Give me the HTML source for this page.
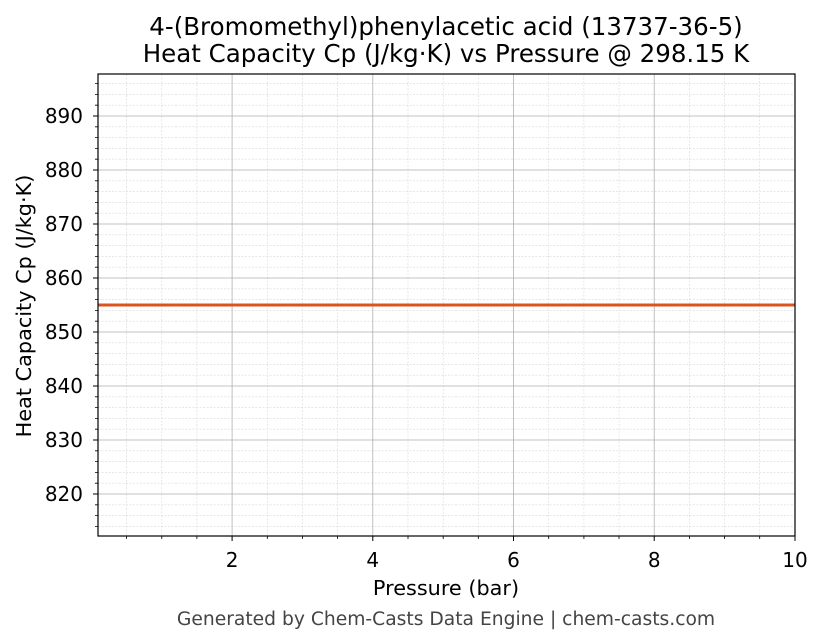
<!DOCTYPE html>
<html><head><meta charset="utf-8"><style>
body{margin:0;background:#fff;}
svg{display:block;font-family:"DejaVu Sans","Liberation Sans",sans-serif;}
</style></head><body>
<svg width="823" height="644" viewBox="0 0 823 644" xmlns="http://www.w3.org/2000/svg">
<rect width="823" height="644" fill="#fff"/>
<g stroke="#d8d8d8" stroke-width="0.6" stroke-dasharray="2,1.5">
<path d="M126.6 74V536M161.8 74V536M196.9 74V536M267.3 74V536M302.5 74V536M337.6 74V536M408 74V536M443.2 74V536M478.3 74V536M548.7 74V536M583.9 74V536M619 74V536M689.4 74V536M724.6 74V536M759.7 74V536"/>
<path d="M98 83.6H795M98 94.4H795M98 105.2H795M98 126.8H795M98 137.6H795M98 148.4H795M98 159.2H795M98 180.8H795M98 191.6H795M98 202.4H795M98 213.2H795M98 234.8H795M98 245.6H795M98 256.4H795M98 267.2H795M98 288.8H795M98 299.6H795M98 310.4H795M98 321.2H795M98 342.8H795M98 353.6H795M98 364.4H795M98 375.2H795M98 396.8H795M98 407.6H795M98 418.4H795M98 429.2H795M98 450.8H795M98 461.6H795M98 472.4H795M98 483.2H795M98 504.8H795M98 515.6H795M98 526.4H795"/>
</g>
<g stroke="#b0b0b0" stroke-width="0.8">
<path d="M232.1 74V536M372.8 74V536M513.5 74V536M654.2 74V536"/>
<path d="M98 116H795M98 170H795M98 224H795M98 278H795M98 332H795M98 386H795M98 440H795M98 494H795"/>
</g>
<line x1="98" y1="305" x2="795" y2="305" stroke="#d9541e" stroke-width="3"/>
<rect x="98" y="74" width="697" height="462" fill="none" stroke="#000" stroke-width="1.2"/>
<g stroke="#000" stroke-width="1">
<path d="M232.1 536v5M372.8 536v5M513.5 536v5M654.2 536v5M795 536v5"/>
<path d="M98 116h-5M98 170h-5M98 224h-5M98 278h-5M98 332h-5M98 386h-5M98 440h-5M98 494h-5"/>
</g>
<g stroke="#000" stroke-width="0.8">
<path d="M126.6 536v3M161.8 536v3M196.9 536v3M267.3 536v3M302.5 536v3M337.6 536v3M408 536v3M443.2 536v3M478.3 536v3M548.7 536v3M583.9 536v3M619 536v3M689.4 536v3M724.6 536v3M759.7 536v3"/>
<path d="M98 83.6h-3M98 94.4h-3M98 105.2h-3M98 126.8h-3M98 137.6h-3M98 148.4h-3M98 159.2h-3M98 180.8h-3M98 191.6h-3M98 202.4h-3M98 213.2h-3M98 234.8h-3M98 245.6h-3M98 256.4h-3M98 267.2h-3M98 288.8h-3M98 299.6h-3M98 310.4h-3M98 321.2h-3M98 342.8h-3M98 353.6h-3M98 364.4h-3M98 375.2h-3M98 396.8h-3M98 407.6h-3M98 418.4h-3M98 429.2h-3M98 450.8h-3M98 461.6h-3M98 472.4h-3M98 483.2h-3M98 504.8h-3M98 515.6h-3M98 526.4h-3"/>
</g>
<g font-size="20" fill="#000" text-anchor="middle">
<text x="232.1" y="567">2</text><text x="372.8" y="567">4</text><text x="513.5" y="567">6</text><text x="654.2" y="567">8</text><text x="795" y="567">10</text>
</g>
<g font-size="20" fill="#000" text-anchor="end">
<text x="83" y="123">890</text><text x="83" y="177">880</text><text x="83" y="231">870</text><text x="83" y="285">860</text><text x="83" y="339">850</text><text x="83" y="393">840</text><text x="83" y="447">830</text><text x="83" y="501">820</text>
</g>
<text x="446" y="595" font-size="20.8" text-anchor="middle">Pressure (bar)</text>
<text transform="translate(31 306) rotate(-90)" font-size="20.8" text-anchor="middle">Heat Capacity Cp (J/kg·K)</text>
<text x="446" y="35" font-size="24.5" text-anchor="middle">4-(Bromomethyl)phenylacetic acid (13737-36-5)</text>
<text x="446" y="62" font-size="24.5" text-anchor="middle">Heat Capacity Cp (J/kg·K) vs Pressure @ 298.15 K</text>
<text x="446" y="625" font-size="18.7" fill="#444" text-anchor="middle">Generated by Chem-Casts Data Engine | chem-casts.com</text>
</svg>
</body></html>
